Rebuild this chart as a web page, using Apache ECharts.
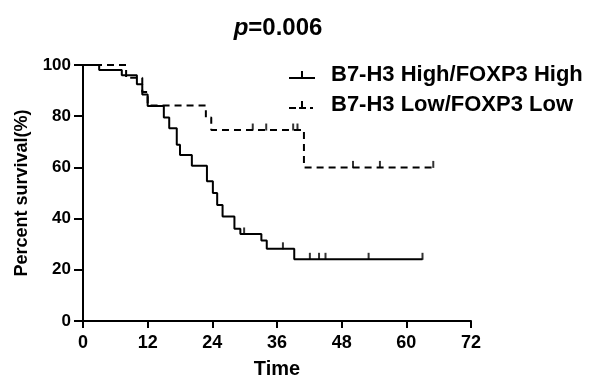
<!DOCTYPE html>
<html>
<head>
<meta charset="utf-8">
<script src="https://cdn.jsdelivr.net/npm/echarts@6/dist/echarts.min.js"></script>
<style>
  html, body { margin: 0; padding: 0; background: #fff; }
  #chart { width: 600px; height: 391px; }
</style>
</head>
<body>
<div id="chart"></div>
<script>
// Kaplan-Meier steps (months, % survival)
const highName = 'B7-H3 High/FOXP3 High';
const highTimes = [0, 3, 7.2, 10, 11, 12, 15, 16, 17.4, 18, 20.2, 23, 24.1, 24.9, 25.9, 28.1, 29.2, 33.1, 34.1, 39.2, 63];
const highSurv = [100, 98, 96, 92.5, 88.5, 84, 79.5, 75.3, 68.8, 64.8, 60.6, 54.6, 50, 45.3, 40.8, 36, 34, 31.4, 28.2, 24.1, 24.1];
const highCensor = [29.9, 37.1, 42.1, 43.8, 45, 53, 63];

const lowName = 'B7-H3 Low/FOXP3 Low';
const lowTimes = [0, 8, 11, 12, 22.8, 23.8, 41, 65];
const lowSurv = [100, 95, 89.5, 84.2, 79.5, 74.6, 60, 60];
const lowCensor = [31.5, 34, 39, 39.8, 50.1, 55.1, 65];

const xTicks = [0, 12, 24, 36, 48, 60, 72];
const yTicks = [0, 20, 40, 60, 80, 100];

// survival level of a step curve at time t
function levelAt(times, surv, t) {
  let s = surv[0];
  for (let i = 0; i < times.length; i++) {
    if (times[i] <= t) s = surv[i];
  }
  return s;
}

const pairs = (xs, ys) => xs.map((x, i) => [x, ys[i]]);
const censorPts = (c, times, surv) => c.map(t => [t, levelAt(times, surv, t)]);

// legend icons: line with a censor tick (solid / dashed)
const solidIcon = 'path://M0,6h26v2H0z M12,0h2v6h-2z';
const dashIcon = 'path://M0,6h7v2H0z M10,6h7v2h-7z M12,0h2v6h-2z M21,6h3v2h-3z M25.9,0h0.1v0.1h-0.1z';

const chart = echarts.init(document.getElementById('chart'));
const font = 'Liberation Sans, Arial, sans-serif';

const option = {
  animation: false,
  title: {
    text: '{i|p}=0.006',
    left: 273,
    textAlign: 'center',
    top: 11,
    textStyle: {
      fontFamily: font,
      fontSize: 24,
      fontWeight: 'bold',
      color: '#000',
      rich: {
        i: { fontFamily: font, fontSize: 24, fontWeight: 'bold', fontStyle: 'italic', color: '#000' }
      }
    }
  },
  legend: {
    orient: 'vertical',
    left: 284,
    top: 59,
    itemWidth: 26,
    itemHeight: 8,
    itemGap: 8,
    data: [
      { name: highName, icon: solidIcon },
      { name: lowName, icon: dashIcon }
    ],
    itemStyle: { color: '#000' },
    textStyle: { fontFamily: font, fontSize: 22, fontWeight: 'bold', color: '#000', padding: [0, 0, 0, 11] }
  },
  grid: { left: 83, right: 129, top: 65, bottom: 70 },
  xAxis: {
    type: 'value',
    min: 0,
    max: 72,
    interval: 12,
    name: 'Time',
    nameLocation: 'middle',
    nameGap: 38,
    nameTextStyle: { fontFamily: font, fontSize: 20, fontWeight: 'bold', color: '#000' },
    axisLine: { lineStyle: { color: '#000', width: 2 } },
    axisTick: { length: 7, lineStyle: { color: '#000', width: 2 } },
    axisLabel: { fontFamily: font, fontSize: 18, fontWeight: 'bold', color: '#000', margin: 13,
      formatter: v => xTicks.includes(v) ? String(v) : '' },
    splitLine: { show: false }
  },
  yAxis: {
    type: 'value',
    min: 0,
    max: 100,
    interval: 20,
    name: 'Percent survival(%)',
    nameLocation: 'middle',
    nameGap: 52,
    nameTextStyle: { fontFamily: font, fontSize: 18, fontWeight: 'bold', color: '#000' },
    axisLine: { show: true, lineStyle: { color: '#000', width: 2 } },
    axisTick: { show: true, length: 9, lineStyle: { color: '#000', width: 2 } },
    axisLabel: { fontFamily: font, fontSize: 17, fontWeight: 'bold', color: '#000', margin: 12,
      formatter: v => yTicks.includes(v) ? String(v) : '' },
    splitLine: { show: false }
  },
  series: [
    {
      name: highName,
      type: 'line',
      step: 'end',
      symbol: 'none',
      data: pairs(highTimes, highSurv),
      lineStyle: { color: '#000', width: 2 },
      itemStyle: { color: '#000' }
    },
    {
      name: lowName,
      type: 'line',
      step: 'end',
      symbol: 'none',
      data: pairs(lowTimes, lowSurv),
      lineStyle: { color: '#000', width: 2, type: [7, 5] },
      itemStyle: { color: '#000' }
    },
    {
      name: highName + ' censored',
      type: 'scatter',
      symbol: 'rect',
      symbolSize: [2, 7],
      symbolOffset: [0, -3],
      data: censorPts(highCensor, highTimes, highSurv),
      itemStyle: { color: '#000' },
      silent: true
    },
    {
      name: lowName + ' censored',
      type: 'scatter',
      symbol: 'rect',
      symbolSize: [2, 7],
      symbolOffset: [0, -3],
      data: censorPts(lowCensor, lowTimes, lowSurv),
      itemStyle: { color: '#000' },
      silent: true
    }
  ]
};

chart.setOption(option);
</script>
</body>
</html>
